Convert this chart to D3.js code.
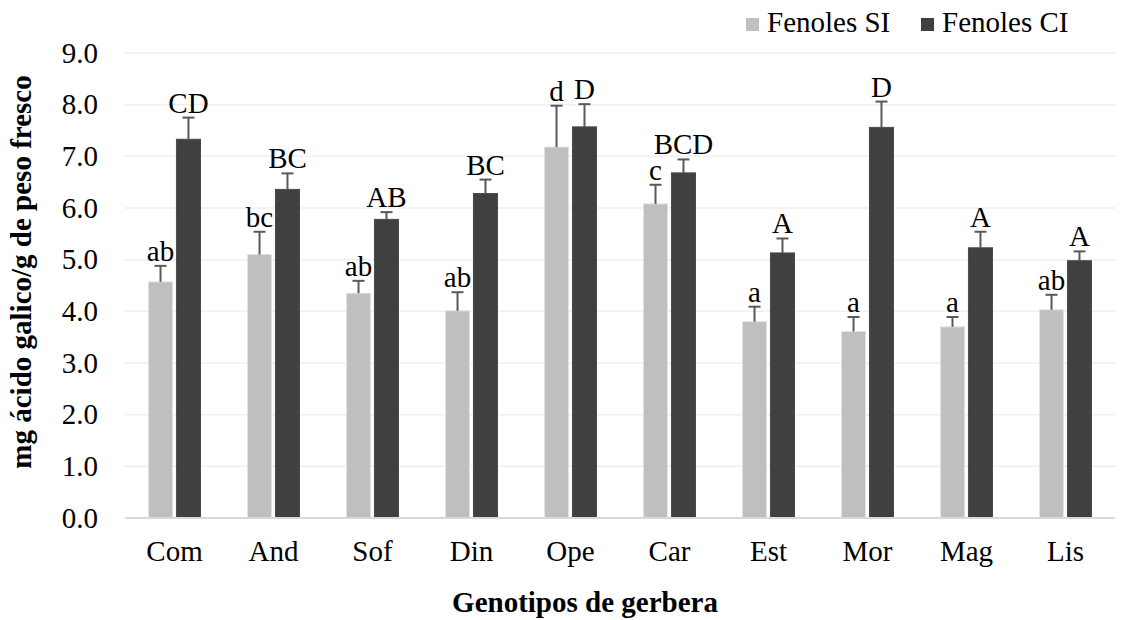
<!DOCTYPE html>
<html>
<head>
<meta charset="utf-8">
<script src="https://cdn.jsdelivr.net/npm/d3@7"></script>
<style>
  html, body { margin: 0; padding: 0; background: #fff; }
  svg { display: block; }
  text { font-family: "Liberation Serif", "Times New Roman", serif; fill: #000; }
</style>
</head>
<body>
<svg id="chart" width="1124" height="620"></svg>
<script>
const categories = ["Com", "And", "Sof", "Din", "Ope", "Car", "Est", "Mor", "Mag", "Lis"];
const seriesNames = ["Fenoles SI", "Fenoles CI"];
const valuesSI = [4.57, 5.10, 4.35, 4.01, 7.18, 6.08, 3.80, 3.61, 3.70, 4.03];
const valuesCI = [7.33, 6.36, 5.78, 6.28, 7.57, 6.68, 5.13, 7.56, 5.23, 4.98];
const errorsSI = [0.31, 0.44, 0.24, 0.36, 0.80, 0.37, 0.29, 0.28, 0.19, 0.29];
const errorsCI = [0.42, 0.31, 0.14, 0.27, 0.44, 0.26, 0.28, 0.50, 0.31, 0.18];
const lettersSI = ["ab", "bc", "ab", "ab", "d", "c", "a", "a", "a", "ab"];
const lettersCI = ["CD", "BC", "AB", "BC", "D", "BCD", "A", "D", "A", "A"];
const yTicks = [0, 1, 2, 3, 4, 5, 6, 7, 8, 9];
const colors = ["#bfbfbf", "#404040"];

const svg = d3.select("#chart");
const FS = 29;

const x = d3.scaleBand().domain(categories).range([125, 1115]).paddingInner(0).paddingOuter(0);
const x1 = d3.scaleBand().domain(seriesNames).range([x.bandwidth() / 2 - 26, x.bandwidth() / 2 + 26]).paddingInner(0.14);
const y = d3.scaleLinear().domain([0, 9]).range([518, 53]);

// gridlines
svg.append("g").selectAll("line").data(yTicks.slice(1)).join("line")
  .attr("x1", 125).attr("x2", 1115)
  .attr("y1", d => y(d)).attr("y2", d => y(d))
  .attr("stroke", "#efefef").attr("stroke-width", 1.5);

// y axis tick labels via d3 axis
const yAxis = svg.append("g").attr("transform", "translate(125,0)")
  .call(d3.axisLeft(y).tickValues(yTicks).tickFormat(d3.format(".1f")).tickSize(0).tickPadding(27));
yAxis.select(".domain").remove();
yAxis.selectAll("text").style("font-size", FS + "px").style("font-family", '"Liberation Serif", "Times New Roman", serif').attr("fill", "#000");

// bars
const rows = categories.map((c, i) => ({
  cat: c,
  items: [
    { s: seriesNames[0], v: valuesSI[i], e: errorsSI[i], l: lettersSI[i], c: colors[0] },
    { s: seriesNames[1], v: valuesCI[i], e: errorsCI[i], l: lettersCI[i], c: colors[1] }
  ]
}));

const groups = svg.append("g").selectAll("g").data(rows).join("g")
  .attr("transform", d => `translate(${x(d.cat)},0)`);

groups.selectAll("rect").data(d => d.items).join("rect")
  .attr("x", d => x1(d.s)).attr("width", x1.bandwidth())
  .attr("y", d => y(d.v)).attr("height", d => y(0) - y(d.v))
  .attr("fill", d => d.c)
  .attr("stroke", d => d.s === seriesNames[0] ? "#e2e2e2" : "#4a4a4a").attr("stroke-width", 1);

// error bars
const eb = groups.selectAll("g.err").data(d => d.items).join("g").attr("class", "err");
eb.append("line")
  .attr("x1", d => x1(d.s) + x1.bandwidth() / 2).attr("x2", d => x1(d.s) + x1.bandwidth() / 2)
  .attr("y1", d => y(d.v)).attr("y2", d => y(d.v + d.e))
  .attr("stroke", "#595959").attr("stroke-width", 2);
eb.append("line")
  .attr("x1", d => x1(d.s) + x1.bandwidth() / 2 - 6).attr("x2", d => x1(d.s) + x1.bandwidth() / 2 + 6)
  .attr("y1", d => y(d.v + d.e)).attr("y2", d => y(d.v + d.e))
  .attr("stroke", "#595959").attr("stroke-width", 2);

// letters
groups.selectAll("text.lbl").data(d => d.items).join("text").attr("class", "lbl")
  .attr("x", d => x1(d.s) + x1.bandwidth() / 2)
  .attr("y", d => y(d.v + d.e) - 5)
  .attr("text-anchor", "middle")
  .style("font-size", FS + "px")
  .text(d => d.l);

// x axis line
svg.append("line").attr("x1", 125).attr("x2", 1115).attr("y1", y(0)).attr("y2", y(0))
  .attr("stroke", "#d9d9d9").attr("stroke-width", 2);

// x axis labels
const xAxis = svg.append("g").attr("transform", `translate(0,${y(0)})`)
  .call(d3.axisBottom(x).tickSize(0).tickPadding(22));
xAxis.select(".domain").remove();
xAxis.selectAll("text").style("font-size", FS + "px").style("font-family", '"Liberation Serif", "Times New Roman", serif').attr("fill", "#000");

// axis titles
svg.append("text").attr("x", 585).attr("y", 612).attr("text-anchor", "middle")
  .style("font-size", FS + "px").style("font-weight", "bold").text("Genotipos de gerbera");
svg.append("text").attr("transform", "translate(31,272) rotate(-90)").attr("text-anchor", "middle")
  .style("font-size", FS + "px").style("font-weight", "bold").text("mg ácido galico/g de peso fresco");

// legend
const legendX = [746, 921];
const leg = svg.append("g").selectAll("g").data(seriesNames).join("g")
  .attr("transform", (d, i) => `translate(${legendX[i]},0)`);
leg.append("rect").attr("x", 0).attr("y", 18).attr("width", 13).attr("height", 13)
  .attr("fill", (d, i) => colors[i]);
leg.append("text").attr("x", 21).attr("y", 32).style("font-size", FS + "px").text(d => d);
</script>
</body>
</html>
